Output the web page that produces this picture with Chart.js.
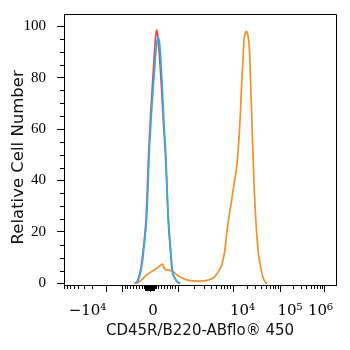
<!DOCTYPE html>
<html><head><meta charset="utf-8">
<script src="https://cdn.jsdelivr.net/npm/chart.js@4"></script>
<style>html,body{margin:0;padding:0;background:#fff}#wrap{width:350px;height:350px;position:relative}</style>
</head><body><div id="wrap"><canvas id="c"></canvas></div>
<script>
// x values are display channels on the biexponential axis (0 .. 272), y = relative cell number
const redX  = [70.5,73.5,77.2,79.5,82.2,84.7,86.7,88.6,90.5,91.7,92.7,94,95.7,97.5,99.5,101.3,102.8,104,106.2,108,111,113,116];
const redY  = [0,1,6.5,14,26,51,66,78,90,96,98.5,95.5,87,76,62,51,38,26,14,5.5,2,0.7,0];
const blueX = [71,74,77.7,80,82.7,85.3,87.3,89.3,91.5,93,94.3,95.7,97,98.3,100,101.7,103,104.3,106.5,108.5,111,113,116];
const blueY = [0,1,6.5,14,25.9,51,65,76.4,88,94,95.5,93,86,76.4,62,51,38,25.9,14,5,2,0.8,0];
const orangeX = [72.7,77,82.7,87.5,92.7,96,98.3,99.5,101,104,107.7,111,114.3,117.7,121,125,129.3,134,139.3,144,147.7,151,154.3,157.7,160.5,162.7,165,167.7,170,172.7,174,175.3,176.5,177.7,179,180,181.3,182.3,183.5,185,186,186.7,187.5,188.3,189.2,190,191.3,192.7,194.3,196,198.5,201,203.3];
const orangeY = [0,1.2,3.3,4.6,5.9,6.9,7.5,6.6,5.6,5.2,4.9,4.0,3.0,2.2,1.6,1.2,1.0,0.9,1.0,1.3,1.8,2.8,4.6,7.2,12,19.5,26,32.4,38.5,45.4,51,58.3,67,77.7,87,94.6,97.2,98,97,93.3,86,77.7,68,58.3,48,38.9,28,19.5,12,7.8,3,0.7,0];

// axis labelling
const xLabelPos  = [23.5, 89, 178.5, 226, 256.5];
const xLabelText = ['−10⁴', '0', '10⁴', '10⁵', '10⁶'];
const decadeValues = [-1e5, -1e4, -1e3, 0, 1e3, 1e4, 1e5, 1e6];
const decadePos    = [-4, 42, 57.7, 86, 114, 168.7, 216, 260];
const yMajor = [0, 20, 40, 60, 80, 100];
const yMinorStep = 5;

const toPts = (xs, ys) => xs.map((x, i) => ({x: x, y: ys[i]}));

// minor tick positions on the x axis (derived from decade positions)
function xMinorTicks() {
  const out = [];
  for (let i = 0; i < decadeValues.length - 1; i++) {
    const v0 = decadeValues[i], v1 = decadeValues[i + 1];
    const p0 = decadePos[i], p1 = decadePos[i + 1];
    if (v0 === -1e4 && v1 === -1e3) continue;
    if (v0 >= -1e3 && v1 <= 1e3) { // linear zone
      for (let k = 1; k < 10; k++) out.push(p0 + (p1 - p0) * k / 10);
    } else if (v0 > 0) {
      for (let m = 2; m < 10; m++) out.push(p0 + (p1 - p0) * Math.log10(m));
    } else {
      for (let m = 2; m < 10; m++) out.push(p1 - (p1 - p0) * Math.log10(m));
    }
  }
  const z = decadePos[decadeValues.indexOf(0)];
  const step = (decadePos[decadeValues.indexOf(1e3)] - z) / 1000;
  for (let v = -200; v <= 200; v += 25) out.push(z + v * step);
  return out;
}

const frame = {
  id: 'frame',
  afterDraw(chart) {
    const {ctx, chartArea: a, scales: {x, y}} = chart;
    ctx.save();
    ctx.strokeStyle = '#000';
    ctx.lineWidth = 1;
    ctx.beginPath();
    ctx.moveTo(Math.round(a.left) + 0.5, Math.round(a.top) + 0.5);
    ctx.lineTo(Math.round(a.right) + 0.5, Math.round(a.top) + 0.5);
    ctx.lineTo(Math.round(a.right) + 0.5, Math.round(a.bottom) + 0.5);
    ctx.stroke();
    ctx.beginPath();
    for (let v = 0; v <= 100; v += yMinorStep) {
      if (v % 20 === 0) continue;
      const py = Math.round(y.getPixelForValue(v)) + 0.5;
      ctx.moveTo(a.left - 4, py); ctx.lineTo(a.left, py);
    }
    const b = Math.round(a.bottom);
    decadePos.forEach(p => {
      const px = Math.round(x.getPixelForValue(p)) + 0.5;
      if (px < a.left || px > a.right) return;
      ctx.moveTo(px, b); ctx.lineTo(px, b + 7);
    });
    xMinorTicks().forEach(p => {
      const px = Math.round(x.getPixelForValue(p)) + 0.5;
      if (px < a.left || px > a.right) return;
      ctx.moveTo(px, b); ctx.lineTo(px, b + 4);
    });
    ctx.stroke();
    const z = x.getPixelForValue(decadePos[3]);
    ctx.fillStyle = '#000';
    ctx.fillRect(Math.round(z - 5), b, 10, 6);
    ctx.restore();
  }
};

const lineDs = (label, xs, ys, color, order) => ({
  label, data: toPts(xs, ys), borderColor: color, backgroundColor: color,
  borderWidth: 1.7, pointRadius: 0, fill: false, cubicInterpolationMode: 'monotone', order
});

new Chart(document.getElementById('c'), {
  type: 'line',
  data: {
    datasets: [
      lineDs('Isotype', redX, redY, '#e8474f', 2),
      lineDs('Unstained', blueX, blueY, '#2ab0e4', 0),
      lineDs('CD45R/B220', orangeX, orangeY, '#f0922b', 1)
    ]
  },
  options: {
    responsive: true, maintainAspectRatio: false, animation: false,
    layout: {padding: {top: 14, right: 14, left: 0, bottom: 0}},
    plugins: {legend: {display: false}, tooltip: {enabled: false}},
    scales: {
      x: {
        type: 'linear', min: 0, max: 272,
        afterFit(s) { s.height = 65; s.paddingLeft = 0; s.paddingRight = 0; },
        afterBuildTicks(s) { s.ticks = xLabelPos.map(v => ({value: v})); },
        grid: {display: true, drawOnChartArea: false, drawTicks: false},
        border: {display: true, color: '#000', width: 1},
        ticks: {
          autoSkip: false, maxRotation: 0, padding: 17, color: '#000',
          font: {family: 'DejaVu Serif', size: 15},
          callback: (v, i) => xLabelText[i]
        },
        title: {display: true, text: 'CD45R/B220-ABflo® 450', color: '#111',
          font: {family: 'DejaVu Sans', size: 15}, padding: {top: 0, bottom: 10}}
      },
      y: {
        min: -0.6, max: 104.7,
        afterFit(s) { s.width = 64; s.paddingTop = 0; s.paddingBottom = 0; },
        afterBuildTicks(s) { s.ticks = yMajor.map(v => ({value: v})); },
        grid: {display: true, drawOnChartArea: false, drawTicks: true, tickLength: 7, color: '#000'},
        border: {display: true, color: '#000', width: 1},
        ticks: {autoSkip: false, padding: 11, color: '#000',
          font: {family: 'Liberation Serif', size: 15}},
        title: {display: true, text: 'Relative Cell Number   ', color: '#111',
          font: {family: 'DejaVu Sans', size: 16.5}, padding: {top: 9, bottom: 0}}
      }
    }
  },
  plugins: [frame]
});
</script>
</body></html>
